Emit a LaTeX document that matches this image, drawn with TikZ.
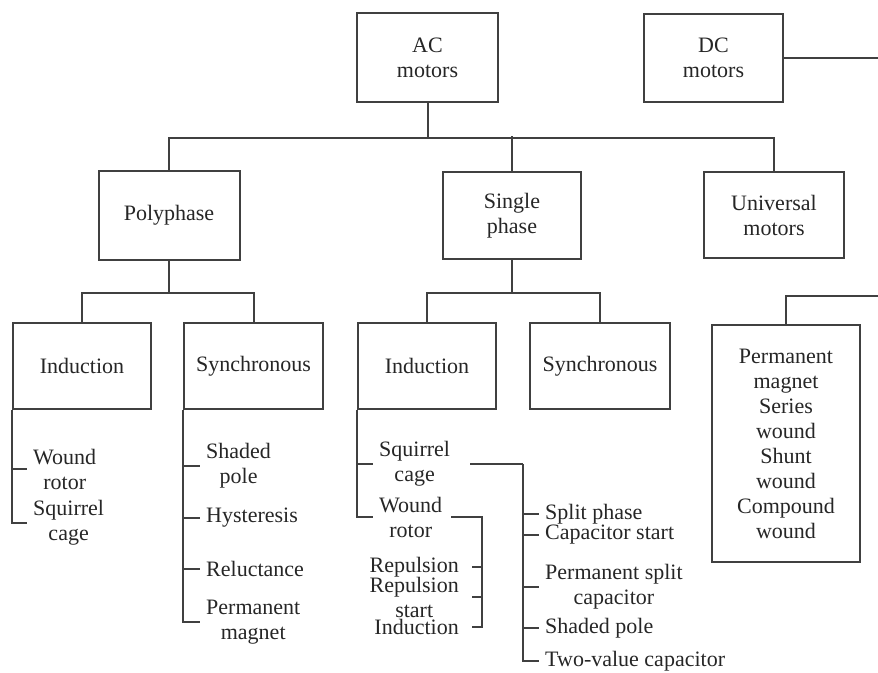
\documentclass[tikz,border=0pt]{standalone}
\usepackage{fontspec}
\setmainfont{Liberation Serif}
\usepackage{xcolor}
\usepackage{tikz}
\tikzset{
  motorbox/.style={
    draw=black!75,
    line width=2pt,
    fill=white,
    minimum width=139pt,
    minimum height=87pt,
    inner sep=4pt,
    align=center,
    text=black!85,
    font=\fontsize{22}{25}\selectfont,
  },
  item/.style={
    align=center,
    inner xsep=6pt,
    inner ysep=2pt,
    text=black!85,
    font=\fontsize{22}{25}\selectfont,
  },
  ritem/.style={
    item,
    inner xsep=13pt,
  },
  link/.style={
    draw=black!75,
    line width=2pt,
  },
}

\begin{document}
\begin{tikzpicture}[x=1pt, y=-1pt]
  \useasboundingbox (0,0) rectangle (878,672);
  \clip (0,0) rectangle (878,672);

  % Row 1 — AC and DC
  \node[motorbox, minimum width=141pt, minimum height=89pt] (ac) at (427.5,57.5) {AC\\motors};
  \node[motorbox, minimum height=88pt] (dc) at (713.5,58) {DC\\motors};

  % Row 2 — AC families
  \node[motorbox, minimum width=141pt, minimum height=89pt] (poly) at (169,215.5) {Polyphase};
  \node[motorbox, minimum width=138pt] (single) at (512,215.5) {Single\\phase};
  \node[motorbox, minimum width=140pt, minimum height=86pt] (univ) at (774,215) {Universal\\motors};

  \draw[link] (ac.south) -- ++(0,35) -| (poly.north);
  \draw[link] (ac.south) -- ++(0,35) -| (univ.north);
  \draw[link] (single.north) -- ++(0,-35);

  % Row 3 — induction / synchronous
  \node[motorbox, minimum width=138pt, minimum height=86pt] (pind) at (82,366) {Induction};
  \node[motorbox, minimum height=86pt] (psyn) at (253.5,366) {Synchronous};
  \node[motorbox, minimum width=138pt, minimum height=86pt] (sind) at (427,366) {Induction};
  \node[motorbox, minimum width=140pt, minimum height=86pt] (ssyn) at (600,366) {Synchronous};

  \draw[link] (poly.south) -- ++(0,32) -| (pind.north);
  \draw[link] (poly.south) -- ++(0,32) -| (psyn.north);
  \draw[link] (single.south) -- ++(0,33) -| (sind.north);
  \draw[link] (single.south) -- ++(0,33) -| (ssyn.north);

  % DC branch
  \node[motorbox, minimum width=148pt, minimum height=237pt] (dcbox) at (786,443.5)
    {Permanent\\magnet\\Series\\wound\\Shunt\\wound\\Compound\\wound};
  \coordinate (dcturn) at (895,296);
  \draw[link] (dc.east) -| (dcturn) -| (dcbox.north);

  % Polyphase induction types
  \node[item, anchor=west] (pwr) at (27,469) {Wound\\rotor};
  \node[item, anchor=west] (psc) at (27,522.5) {Squirrel\\cage};
  \draw[link] (pind.south west) |- (psc.west);
  \draw[link] (pind.south west |- pwr.west) -- (pwr.west);

  % Polyphase synchronous types
  \node[item, anchor=west] (shp) at (200,465.5) {Shaded\\pole};
  \node[item, anchor=west] (hys) at (200,518) {Hysteresis};
  \node[item, anchor=west] (rel) at (200,569) {Reluctance};
  \node[item, anchor=west] (pmag) at (200,622) {Permanent\\magnet};
  \draw[link] (psyn.south west) |- (pmag.west);
  \foreach \n in {shp,hys,rel}
    \draw[link] (psyn.south west |- \n.west) -- (\n.west);

  % Single-phase induction types
  \node[item, anchor=west] (ssc) at (373,464) {Squirrel\\cage};
  \node[item, anchor=west] (swr) at (373,517) {Wound\\rotor};
  \draw[link] (sind.south west) |- (swr.west);
  \draw[link] (sind.south west |- ssc.west) -- (ssc.west);

  % Squirrel cage types
  \coordinate (cagex) at (523,0);
  \coordinate (cagebus) at (ssc.east -| cagex);
  \node[item, anchor=west] (split) at (539,514) {Split phase};
  \node[item, anchor=west] (capst) at (539,535) {Capacitor start};
  \node[item, anchor=west] (psplit) at (539,586.5) {Permanent split\\capacitor};
  \node[item, anchor=west] (shpole) at (539,628) {Shaded pole};
  \node[item, anchor=west] (twoval) at (539,661) {Two-value capacitor};
  \draw[link, shorten <=14pt] (ssc.east) -- (cagebus);
  \draw[link] (cagebus) |- (twoval.west);
  \foreach \n in {split,capst,psplit,shpole}
    \draw[link] (cagebus |- \n.west) -- (\n.west);

  % Wound rotor types
  \coordinate (rotorx) at (482,0);
  \coordinate (rotorbus) at (swr.east -| rotorx);
  \node[ritem, anchor=east] (rep) at (472,567) {Repulsion};
  \node[ritem, anchor=east] (repst) at (472,597) {Repulsion\\start};
  \node[ritem, anchor=east] (rind) at (472,627) {Induction};
  \draw[link, shorten <=3pt] (swr.east) -- (rotorbus) |- (rind.east);
  \foreach \n in {rep,repst}
    \draw[link] (rotorbus |- \n.east) -- (\n.east);
\end{tikzpicture}
\end{document}
